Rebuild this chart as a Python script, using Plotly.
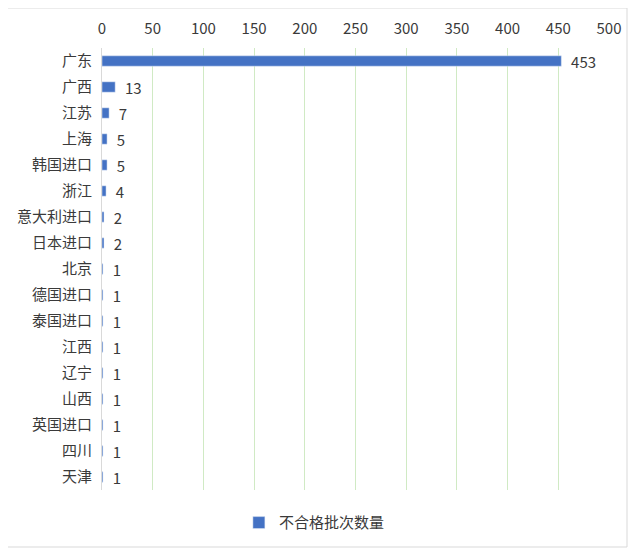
import plotly.graph_objects as go

categories = ["广东", "广西", "江苏", "上海", "韩国进口", "浙江", "意大利进口", "日本进口",
              "北京", "德国进口", "泰国进口", "江西", "辽宁", "山西", "英国进口", "四川", "天津"]
values = [453, 13, 7, 5, 5, 4, 2, 2, 1, 1, 1, 1, 1, 1, 1, 1, 1]
series_name = "不合格批次数量"
x_ticks = [0, 50, 100, 150, 200, 250, 300, 350, 400, 450, 500]

font_family = "Noto Sans CJK SC, Microsoft YaHei, sans-serif"
txt = "#3a3a3a"

fig = go.Figure()
fig.add_trace(go.Bar(
    y=categories, x=values, orientation="h", name=series_name,
    marker=dict(color="#4472c4"),
    texttemplate="  %{x}", textposition="outside", constraintext="none",
    textfont=dict(size=15, color=txt, family=font_family),
    cliponaxis=False, showlegend=True,
))

fig.update_layout(
    width=638, height=556,
    paper_bgcolor="white", plot_bgcolor="white",
    margin=dict(l=94, r=37, t=40, b=74, autoexpand=False),
    bargap=0.6,
    font=dict(family=font_family, size=15, color=txt),
    xaxis=dict(
        side="top", range=[0, 500], tickvals=x_ticks,
        showgrid=True, gridcolor="#d0eac4", gridwidth=1,
        zeroline=False, showline=False, ticks="", automargin=False,
        ticklabelstandoff=10,
        tickfont=dict(size=15, color=txt),
    ),
    yaxis=dict(
        categoryorder="array", categoryarray=categories, autorange="reversed",
        showline=True, linecolor="#d9d9d9", linewidth=1,
        showgrid=False, ticks="", automargin=False, ticklabelstandoff=6,
        tickfont=dict(size=15, color=txt),
    ),
    legend=dict(orientation="h", x=0.27, xanchor="left", y=-0.037, yanchor="top",
                itemwidth=30, font=dict(size=15, color=txt)),
    shapes=[dict(type="rect", xref="paper", yref="paper",
                 x0=-96/507, x1=1+18/507, y0=-57/442, y1=1+40/442,
                 line=dict(color="#d9d9d9", width=1))],
)

fig.write_html("out.html")
